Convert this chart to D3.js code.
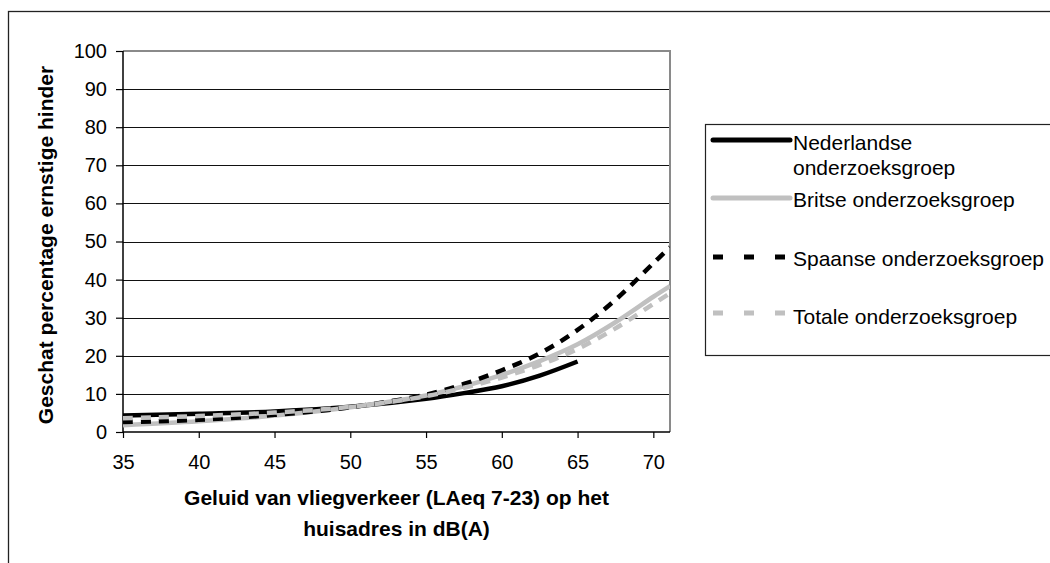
<!DOCTYPE html>
<html>
<head>
<meta charset="utf-8">
<script src="https://cdn.jsdelivr.net/npm/d3@7"></script>
<style>
  html, body { margin: 0; padding: 0; background: #fff; }
  svg { display: block; font-family: "Liberation Sans", Arial, sans-serif; }
</style>
</head>
<body>
<svg id="chart" width="1050" height="563"></svg>
<script>
// ---- data ----
const xTicks = [35, 40, 45, 50, 55, 60, 65, 70];
const yTicks = [0, 10, 20, 30, 40, 50, 60, 70, 80, 90, 100];
const xNed = [35, 40, 45, 50, 55, 57.5, 60, 62.5, 65];
const nederlandse = [4.3, 4.8, 5.4, 6.6, 8.7, 10.2, 12.0, 14.8, 18.5];
const xAll = [35, 40, 45, 50, 55, 57.5, 60, 62.5, 65, 67.5, 70, 71.1];
const britse = [1.8, 2.8, 4.3, 6.5, 9.6, 12.0, 15.0, 18.6, 23.0, 28.8, 35.5, 38.3];
const spaanse = [2.6, 3.2, 4.5, 6.5, 9.8, 12.6, 16.2, 20.6, 26.8, 34.7, 44.3, 48.5];
const totale = [3.6, 4.2, 5.1, 6.6, 9.4, 11.6, 14.3, 17.6, 21.8, 27.2, 33.6, 36.4];
const seriesNames = ["Nederlandse onderzoeksgroep", "Britse onderzoeksgroep", "Spaanse onderzoeksgroep", "Totale onderzoeksgroep"];
const xTitle = ["Geluid van vliegverkeer (LAeq 7-23) op het", "huisadres in dB(A)"];
const yTitle = "Geschat percentage ernstige hinder";

// ---- layout ----
const svg = d3.select("#chart");
const L = 123, R = 670, T = 51, B = 432;
const x = d3.scaleLinear().domain([35, 71.1]).range([L, R]);
const y = d3.scaleLinear().domain([0, 100]).range([B, T]);

// outer frame
svg.append("rect").attr("x", 8.5).attr("y", 11.5).attr("width", 1100).attr("height", 600)
  .attr("fill", "none").attr("stroke", "#222").attr("stroke-width", 1.3);

// gridlines
svg.append("g").selectAll("line").data(yTicks.filter(d => d > 0 && d < 100)).join("line")
  .attr("x1", L).attr("x2", R).attr("y1", d => Math.round(y(d)) + 0.5).attr("y2", d => Math.round(y(d)) + 0.5)
  .attr("stroke", "#111").attr("stroke-width", 1);

// plot border (top & right gray)
svg.append("path").attr("d", `M${L},${T}H${R}V${B}`).attr("fill", "none")
  .attr("stroke", "#8a8a8a").attr("stroke-width", 2);

// axes
const gx = svg.append("g").attr("transform", `translate(0,${B})`)
  .call(d3.axisBottom(x).tickValues(xTicks).tickSize(6).tickPadding(17).tickFormat(d3.format("d")));
const gy = svg.append("g").attr("transform", `translate(${L},0)`)
  .call(d3.axisLeft(y).tickValues(yTicks).tickSize(7).tickPadding(9).tickFormat(d3.format("d")));
[gx, gy].forEach(g => {
  g.select(".domain").attr("stroke", "#000").attr("stroke-width", 1.5);
  g.selectAll(".tick line").attr("stroke", "#000").attr("stroke-width", 1.2);
  g.selectAll(".tick text").attr("font-size", 20).attr("fill", "#000")
    .attr("font-family", "'Liberation Sans', Arial, sans-serif");
});
gx.select(".domain").attr("d", `M${L},0H${R}`);
gy.select(".domain").attr("d", `M0,${B}V${T}`);

// clip
svg.append("clipPath").attr("id", "clip").append("rect")
  .attr("x", L).attr("y", T).attr("width", R - L).attr("height", B - T);

const line = d3.line().x(d => x(d[0])).y(d => y(d[1])).curve(d3.curveCatmullRom.alpha(0.5));
const styles = [
  { stroke: "#000", dash: null },
  { stroke: "#c0c0c0", dash: null },
  { stroke: "#000", dash: "10,8" },
  { stroke: "#c0c0c0", dash: "10,8" }
];
const seriesData = [
  xNed.map((v, i) => [v, nederlandse[i]]),
  xAll.map((v, i) => [v, britse[i]]),
  xAll.map((v, i) => [v, spaanse[i]]),
  xAll.map((v, i) => [v, totale[i]])
];
const gl = svg.append("g").attr("clip-path", "url(#clip)");
seriesData.forEach((s, i) => {
  gl.append("path").attr("d", line(s)).attr("fill", "none")
    .attr("stroke", styles[i].stroke).attr("stroke-width", 4.5)
    .attr("stroke-dasharray", styles[i].dash);
});

// axis titles
const xt = svg.append("text").attr("text-anchor", "middle").attr("font-weight", "bold")
  .attr("font-size", 21).attr("fill", "#000");
xTitle.forEach((t, i) => xt.append("tspan").attr("x", (L + R) / 2).attr("y", 505 + i * 31).text(t));
svg.append("text").attr("transform", "translate(53,245) rotate(-90)")
  .attr("text-anchor", "middle").attr("font-weight", "bold").attr("font-size", 21).attr("fill", "#000")
  .text(yTitle);

// legend
svg.append("rect").attr("x", 705.5).attr("y", 124.5).attr("width", 400).attr("height", 231)
  .attr("fill", "#fff").attr("stroke", "#222").attr("stroke-width", 1.2);
const legY = [140, 198, 257, 313];
const legTextY = [[150, 175], [207], [266], [324]];
const legLines = [["Nederlandse", "onderzoeksgroep"], ["Britse onderzoeksgroep"], ["Spaanse onderzoeksgroep"], ["Totale onderzoeksgroep"]];
seriesNames.forEach((n, i) => {
  svg.append("line").attr("x1", 713).attr("x2", i < 2 ? 790 : 785)
    .attr("y1", legY[i]).attr("y2", legY[i])
    .attr("stroke", styles[i].stroke).attr("stroke-width", 5)
    .attr("stroke-linecap", i < 2 ? "round" : "butt")
    .attr("stroke-dasharray", styles[i].dash ? "10,21" : null);
  const t = svg.append("text").attr("font-size", 21).attr("fill", "#000");
  legLines[i].forEach((s, j) => t.append("tspan").attr("x", 793).attr("y", legTextY[i][j]).text(s));
});
</script>
</body>
</html>
